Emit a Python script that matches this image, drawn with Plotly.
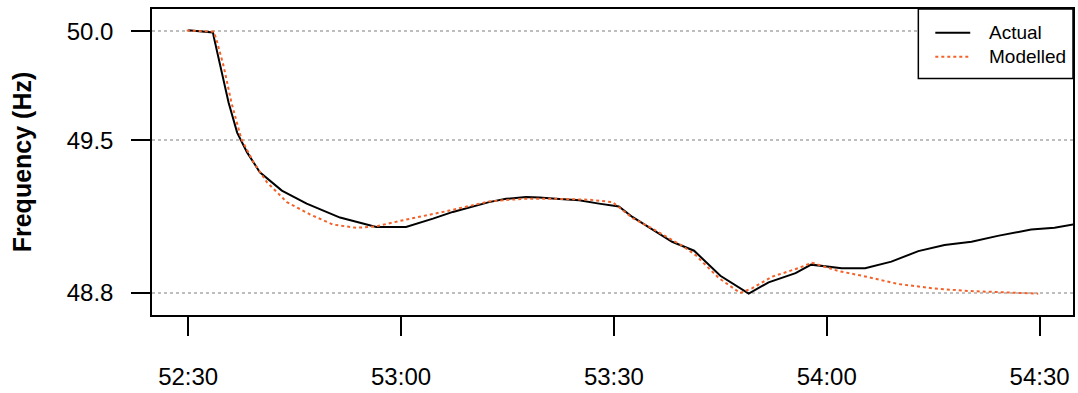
import plotly.graph_objects as go

# time in seconds after 16:52:00
actual_t = [30, 33.5, 33.6, 34.5, 35.7, 36.9, 38.3, 40.1, 43.2, 46.7, 51.4, 56.5, 60.7, 64.5,
            67.3, 72.4, 74.8, 77.6, 79.5, 81.8, 85.1, 87.9, 90.7, 92.6, 95.9, 98.2, 101.3,
            105.0, 109.0, 111.8, 115.6, 117.8, 122.1, 125.4, 129.1, 132.9, 136.6, 140.4,
            144.1, 148.8, 152.1, 155.0]
actual_f = [50.005, 49.994, 49.975, 49.839, 49.672, 49.535, 49.444, 49.353, 49.269, 49.209,
            49.145, 49.102, 49.102, 49.140, 49.171, 49.216, 49.231, 49.239, 49.237, 49.231,
            49.224, 49.209, 49.196, 49.148, 49.080, 49.034, 48.993, 48.878, 48.796, 48.848,
            48.890, 48.929, 48.913, 48.913, 48.943, 48.991, 49.019, 49.034, 49.061, 49.090,
            49.098, 49.115]

model_t = [29.8, 33.6, 34.0, 35.0, 36.1, 37.5, 39.2, 41.1, 43.9, 47.2, 50.4, 53.7, 56.5, 60.3,
           66.8, 72.4, 77.1, 81.8, 86.5, 89.8, 92.6, 95.4, 99.6, 101.5, 104.8, 107.8, 109.5,
           112.3, 116.0, 117.9, 121.6, 125.4, 130.1, 134.8, 139.4, 144.1, 149.8]
model_f = [50.003, 49.998, 49.960, 49.839, 49.672, 49.505, 49.399, 49.307, 49.216, 49.159,
           49.113, 49.098, 49.105, 49.133, 49.177, 49.219, 49.231, 49.231, 49.227, 49.216,
           49.143, 49.095, 49.016, 48.973, 48.867, 48.799, 48.821, 48.874, 48.913, 48.938,
           48.900, 48.875, 48.840, 48.821, 48.809, 48.802, 48.796]

x_tickvals = [30, 60, 90, 120, 150]
x_ticktext = ["52:30", "53:00", "53:30", "54:00", "54:30"]
y_tickvals = [50.0, 49.5, 48.8]
y_ticktext = ["50.0", "49.5", "48.8"]
y_title = "Frequency (Hz)"

series_names = ["Actual", "Modelled"]
series_colors = ["black", "#F4622A"]
series_dash = ["solid", "dot"]

FONT = "Liberation Sans, Arial, sans-serif"
W, H = 1078, 393
ML, MR, MT, MB = 152, 3, 9, 76
PW, PH = W - ML - MR, H - MT - MB


def px(xpix):
    return (xpix - ML) / PW


def py(ypix):
    return (H - MB - ypix) / PH


fig = go.Figure()
fig.add_trace(go.Scatter(x=actual_t, y=actual_f, mode="lines", name=series_names[0],
                         line=dict(color=series_colors[0], width=2, dash=series_dash[0]),
                         showlegend=False))
fig.add_trace(go.Scatter(x=model_t, y=model_f, mode="lines", name=series_names[1],
                         line=dict(color=series_colors[1], width=2, dash=series_dash[1]),
                         showlegend=False))

# manual legend (R-style box in the top-right corner)
shapes = [dict(type="rect", xref="paper", yref="paper",
               x0=px(920), x1=px(1075), y0=py(79), y1=py(9),
               line=dict(color="black", width=1.5), fillcolor="white", layer="above")]
annotations = []
for i, (nm, col, dsh) in enumerate(zip(series_names, series_colors, series_dash)):
    yy = 33 + 24 * i
    shapes.append(dict(type="line", xref="paper", yref="paper",
                       x0=px(937), x1=px(972), y0=py(yy), y1=py(yy),
                       line=dict(color=col, width=2, dash=dsh), layer="above"))
    annotations.append(dict(xref="paper", yref="paper", x=px(989), y=py(yy),
                            text=nm, showarrow=False, xanchor="left", yanchor="middle",
                            font=dict(size=19, family=FONT, color="black")))

# y-axis title placed like R's mtext
annotations.append(dict(xref="paper", yref="paper", x=px(22), y=py(163),
                        text="<b>" + y_title + "</b>", showarrow=False, textangle=-90,
                        xanchor="center", yanchor="middle",
                        font=dict(size=25, family=FONT, color="black")))

fig.update_layout(
    width=W, height=H,
    margin=dict(l=ML, r=MR, t=MT, b=MB),
    paper_bgcolor="white", plot_bgcolor="white",
    font=dict(family=FONT, color="black", size=24),
    showlegend=False,
    shapes=shapes, annotations=annotations,
)
fig.update_xaxes(
    range=[24.9, 154.7], tickvals=x_tickvals, ticktext=x_ticktext,
    showgrid=False, zeroline=False,
    showline=True, linecolor="black", linewidth=1.5, mirror=True,
    ticks="outside", ticklen=19, tickwidth=1.5, tickcolor="black",
    ticklabelstandoff=20, tickfont=dict(size=24),
)
fig.update_yaxes(
    range=[48.698, 50.102], tickvals=y_tickvals, ticktext=y_ticktext,
    showgrid=True, gridcolor="#BEBEBE", gridwidth=1.5, griddash="dot",
    zeroline=False,
    showline=True, linecolor="black", linewidth=1.5, mirror=True,
    ticks="outside", ticklen=19, tickwidth=1.5, tickcolor="black",
    ticklabelstandoff=13, tickfont=dict(size=24),
)

fig.write_html("out.html")
